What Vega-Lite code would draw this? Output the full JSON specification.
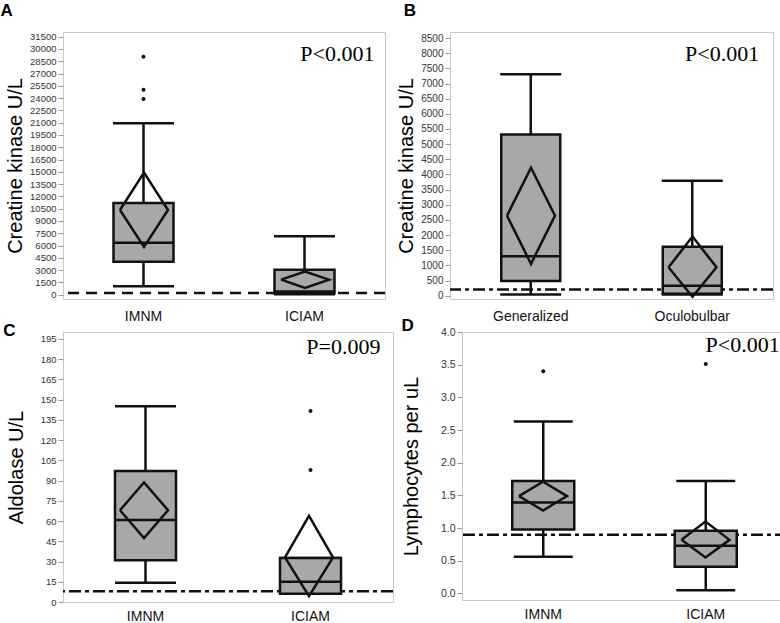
{
  "$schema": "https://vega.github.io/schema/vega-lite/v6.json",
  "background": "white",
  "padding": {"left": 0, "top": 1, "right": 0, "bottom": 0},
  "datasets": {
    "box": [
      {"panel": "A", "group": "IMNM", "lo": 1020, "q1": 4030, "med": 6350, "q3": 11190, "hi": 20920},
      {"panel": "A", "group": "ICIAM", "lo": 50, "q1": 170, "med": 400, "q3": 3050, "hi": 7120},
      {"panel": "B", "group": "Generalized", "lo": 35, "q1": 485, "med": 1300, "q3": 5320, "hi": 7310},
      {"panel": "B", "group": "Oculobulbar", "lo": 40, "q1": 60, "med": 330, "q3": 1610, "hi": 3790},
      {"panel": "C", "group": "IMNM", "lo": 14.3, "q1": 31, "med": 60.8, "q3": 97, "hi": 145},
      {"panel": "C", "group": "ICIAM", "lo": 6.2, "q1": 6.2, "med": 15, "q3": 32.6, "hi": 32.6},
      {"panel": "D", "group": "IMNM", "lo": 0.56, "q1": 0.98, "med": 1.39, "q3": 1.72, "hi": 2.63},
      {"panel": "D", "group": "ICIAM", "lo": 0.05, "q1": 0.41, "med": 0.73, "q3": 0.96, "hi": 1.72}
    ],
    "diamond": [
      {"panel": "A", "group": "IMNM", "k": 1, "vx": "left", "v": 10340},
      {"panel": "A", "group": "IMNM", "k": 2, "vx": "mid", "v": 14900},
      {"panel": "A", "group": "IMNM", "k": 3, "vx": "right", "v": 10340},
      {"panel": "A", "group": "IMNM", "k": 4, "vx": "mid", "v": 5820},
      {"panel": "A", "group": "IMNM", "k": 5, "vx": "left", "v": 10340},
      {"panel": "A", "group": "ICIAM", "k": 1, "vx": "left", "v": 1830},
      {"panel": "A", "group": "ICIAM", "k": 2, "vx": "mid", "v": 2810},
      {"panel": "A", "group": "ICIAM", "k": 3, "vx": "right", "v": 1830},
      {"panel": "A", "group": "ICIAM", "k": 4, "vx": "mid", "v": 810},
      {"panel": "A", "group": "ICIAM", "k": 5, "vx": "left", "v": 1830},
      {"panel": "B", "group": "Generalized", "k": 1, "vx": "left", "v": 2640},
      {"panel": "B", "group": "Generalized", "k": 2, "vx": "mid", "v": 4220},
      {"panel": "B", "group": "Generalized", "k": 3, "vx": "right", "v": 2640},
      {"panel": "B", "group": "Generalized", "k": 4, "vx": "mid", "v": 1050},
      {"panel": "B", "group": "Generalized", "k": 5, "vx": "left", "v": 2640},
      {"panel": "B", "group": "Oculobulbar", "k": 1, "vx": "left", "v": 935},
      {"panel": "B", "group": "Oculobulbar", "k": 2, "vx": "mid", "v": 1950},
      {"panel": "B", "group": "Oculobulbar", "k": 3, "vx": "right", "v": 935},
      {"panel": "B", "group": "Oculobulbar", "k": 4, "vx": "mid", "v": -35},
      {"panel": "B", "group": "Oculobulbar", "k": 5, "vx": "left", "v": 935},
      {"panel": "C", "group": "IMNM", "k": 1, "vx": "left", "v": 68},
      {"panel": "C", "group": "IMNM", "k": 2, "vx": "mid", "v": 88.5},
      {"panel": "C", "group": "IMNM", "k": 3, "vx": "right", "v": 68},
      {"panel": "C", "group": "IMNM", "k": 4, "vx": "mid", "v": 47.3},
      {"panel": "C", "group": "IMNM", "k": 5, "vx": "left", "v": 68},
      {"panel": "C", "group": "ICIAM", "k": 1, "vx": "left", "v": 33},
      {"panel": "C", "group": "ICIAM", "k": 2, "vx": "mid", "v": 63.8},
      {"panel": "C", "group": "ICIAM", "k": 3, "vx": "right", "v": 33},
      {"panel": "C", "group": "ICIAM", "k": 4, "vx": "mid", "v": 4.4},
      {"panel": "C", "group": "ICIAM", "k": 5, "vx": "left", "v": 33},
      {"panel": "D", "group": "IMNM", "k": 1, "vx": "left", "v": 1.49},
      {"panel": "D", "group": "IMNM", "k": 2, "vx": "mid", "v": 1.71},
      {"panel": "D", "group": "IMNM", "k": 3, "vx": "right", "v": 1.49},
      {"panel": "D", "group": "IMNM", "k": 4, "vx": "mid", "v": 1.27},
      {"panel": "D", "group": "IMNM", "k": 5, "vx": "left", "v": 1.49},
      {"panel": "D", "group": "ICIAM", "k": 1, "vx": "left", "v": 0.82},
      {"panel": "D", "group": "ICIAM", "k": 2, "vx": "mid", "v": 1.10},
      {"panel": "D", "group": "ICIAM", "k": 3, "vx": "right", "v": 0.82},
      {"panel": "D", "group": "ICIAM", "k": 4, "vx": "mid", "v": 0.55},
      {"panel": "D", "group": "ICIAM", "k": 5, "vx": "left", "v": 0.82}
    ],
    "outlier": [
      {"panel": "A", "group": "IMNM", "v": 23890},
      {"panel": "A", "group": "IMNM", "v": 25030},
      {"panel": "A", "group": "IMNM", "v": 29060},
      {"panel": "C", "group": "ICIAM", "v": 97.7},
      {"panel": "C", "group": "ICIAM", "v": 141.5},
      {"panel": "D", "group": "IMNM", "v": 3.40},
      {"panel": "D", "group": "ICIAM", "v": 3.51}
    ],
    "ref": [
      {"panel": "A", "v": 200},
      {"panel": "B", "v": 200},
      {"panel": "C", "v": 8},
      {"panel": "D", "v": 0.9}
    ],
    "pval": [
      {"panel": "A", "group": "ICIAM", "v": 28500, "label": "P<0.001"},
      {"panel": "B", "group": "Oculobulbar", "v": 7750, "label": "P<0.001"},
      {"panel": "C", "group": "ICIAM", "v": 184, "label": "P=0.009"},
      {"panel": "D", "group": "ICIAM", "v": 3.69, "label": "P<0.001"}
    ]
  },
  "spacing": -8,
  "vconcat": [
    {
      "spacing": 9,
      "hconcat": [
        {
          "width": 322, "height": 267,
          "title": {"text": "A", "dx": -5, "offset": 12},
          "layer": [
            {"data": {"name": "ref"}, "transform": [{"filter": "datum.panel === 'A'"}],
             "mark": {"type": "rule", "strokeDash": [11, 7], "strokeWidth": 2.5, "color": "#111"},
             "encoding": {"y": {"field": "v", "type": "quantitative", "title": "Creatine kinase U/L", "scale": {"domain": [-530, 32070], "nice": false, "zero": false},
               "axis": {"values": [0, 1500, 3000, 4500, 6000, 7500, 9000, 10500, 12000, 13500, 15000, 16500, 18000, 19500, 21000, 22500, 24000, 25500, 27000, 28500, 30000, 31500], "format": "d", "labelFontSize": 9.5, "titlePadding": 4}}}},
            {"data": {"name": "box"}, "transform": [{"filter": "datum.panel === 'A'"}],
             "mark": {"type": "rule", "strokeWidth": 2.5, "color": "#111"},
             "encoding": {"x": {"field": "group", "type": "nominal", "sort": null, "title": null, "scale": {"domain": ["IMNM", "ICIAM"], "paddingInner": 0, "paddingOuter": 0}},
               "y": {"field": "lo", "type": "quantitative", "title": "Creatine kinase U/L", "scale": {"domain": [-530, 32070], "nice": false, "zero": false},
               "axis": {"values": [0, 1500, 3000, 4500, 6000, 7500, 9000, 10500, 12000, 13500, 15000, 16500, 18000, 19500, 21000, 22500, 24000, 25500, 27000, 28500, 30000, 31500], "format": "d", "labelFontSize": 9.5, "titlePadding": 4}}, "y2": {"field": "q1"}}},
            {"data": {"name": "box"}, "transform": [{"filter": "datum.panel === 'A'"}],
             "mark": {"type": "rule", "strokeWidth": 2.5, "color": "#111"},
             "encoding": {"x": {"field": "group", "type": "nominal", "sort": null, "title": null, "scale": {"domain": ["IMNM", "ICIAM"], "paddingInner": 0, "paddingOuter": 0}},
               "y": {"field": "q3", "type": "quantitative", "title": "Creatine kinase U/L", "scale": {"domain": [-530, 32070], "nice": false, "zero": false},
               "axis": {"values": [0, 1500, 3000, 4500, 6000, 7500, 9000, 10500, 12000, 13500, 15000, 16500, 18000, 19500, 21000, 22500, 24000, 25500, 27000, 28500, 30000, 31500], "format": "d", "labelFontSize": 9.5, "titlePadding": 4}}, "y2": {"field": "hi"}}},
            {"data": {"name": "box"}, "transform": [{"filter": "datum.panel === 'A'"}],
             "mark": {"type": "tick", "size": 61, "thickness": 2.5, "color": "#111", "opacity": 1},
             "encoding": {"x": {"field": "group", "type": "nominal", "sort": null, "title": null, "scale": {"domain": ["IMNM", "ICIAM"], "paddingInner": 0, "paddingOuter": 0}},
               "y": {"field": "lo", "type": "quantitative", "title": "Creatine kinase U/L", "scale": {"domain": [-530, 32070], "nice": false, "zero": false},
               "axis": {"values": [0, 1500, 3000, 4500, 6000, 7500, 9000, 10500, 12000, 13500, 15000, 16500, 18000, 19500, 21000, 22500, 24000, 25500, 27000, 28500, 30000, 31500], "format": "d", "labelFontSize": 9.5, "titlePadding": 4}}}},
            {"data": {"name": "box"}, "transform": [{"filter": "datum.panel === 'A'"}],
             "mark": {"type": "tick", "size": 61, "thickness": 2.5, "color": "#111", "opacity": 1},
             "encoding": {"x": {"field": "group", "type": "nominal", "sort": null, "title": null, "scale": {"domain": ["IMNM", "ICIAM"], "paddingInner": 0, "paddingOuter": 0}},
               "y": {"field": "hi", "type": "quantitative", "title": "Creatine kinase U/L", "scale": {"domain": [-530, 32070], "nice": false, "zero": false},
               "axis": {"values": [0, 1500, 3000, 4500, 6000, 7500, 9000, 10500, 12000, 13500, 15000, 16500, 18000, 19500, 21000, 22500, 24000, 25500, 27000, 28500, 30000, 31500], "format": "d", "labelFontSize": 9.5, "titlePadding": 4}}}},
            {"data": {"name": "box"}, "transform": [{"filter": "datum.panel === 'A'"}],
             "mark": {"type": "bar", "width": 60, "fill": "#a8a8a8", "stroke": "#111", "strokeWidth": 2.5},
             "encoding": {"x": {"field": "group", "type": "nominal", "sort": null, "title": null, "scale": {"domain": ["IMNM", "ICIAM"], "paddingInner": 0, "paddingOuter": 0}},
               "y": {"field": "q1", "type": "quantitative", "title": "Creatine kinase U/L", "scale": {"domain": [-530, 32070], "nice": false, "zero": false},
               "axis": {"values": [0, 1500, 3000, 4500, 6000, 7500, 9000, 10500, 12000, 13500, 15000, 16500, 18000, 19500, 21000, 22500, 24000, 25500, 27000, 28500, 30000, 31500], "format": "d", "labelFontSize": 9.5, "titlePadding": 4}}, "y2": {"field": "q3"}}},
            {"data": {"name": "box"}, "transform": [{"filter": "datum.panel === 'A'"}],
             "mark": {"type": "tick", "size": 60, "thickness": 2.5, "color": "#111", "opacity": 1},
             "encoding": {"x": {"field": "group", "type": "nominal", "sort": null, "title": null, "scale": {"domain": ["IMNM", "ICIAM"], "paddingInner": 0, "paddingOuter": 0}},
               "y": {"field": "med", "type": "quantitative", "title": "Creatine kinase U/L", "scale": {"domain": [-530, 32070], "nice": false, "zero": false},
               "axis": {"values": [0, 1500, 3000, 4500, 6000, 7500, 9000, 10500, 12000, 13500, 15000, 16500, 18000, 19500, 21000, 22500, 24000, 25500, 27000, 28500, 30000, 31500], "format": "d", "labelFontSize": 9.5, "titlePadding": 4}}}},
            {"data": {"name": "diamond"}, "transform": [{"filter": "datum.panel === 'A'"}],
             "mark": {"type": "line", "strokeWidth": 2.5, "color": "#111", "strokeJoin": "miter"},
             "encoding": {"x": {"field": "group", "type": "nominal", "sort": null, "title": null, "scale": {"domain": ["IMNM", "ICIAM"], "paddingInner": 0, "paddingOuter": 0}},
               "xOffset": {"field": "vx", "type": "nominal", "scale": {"type": "point", "domain": ["left", "mid", "right"], "range": [57, 105], "padding": 0}},
               "y": {"field": "v", "type": "quantitative", "title": "Creatine kinase U/L", "scale": {"domain": [-530, 32070], "nice": false, "zero": false},
               "axis": {"values": [0, 1500, 3000, 4500, 6000, 7500, 9000, 10500, 12000, 13500, 15000, 16500, 18000, 19500, 21000, 22500, 24000, 25500, 27000, 28500, 30000, 31500], "format": "d", "labelFontSize": 9.5, "titlePadding": 4}},
               "detail": {"field": "group"}, "order": {"field": "k", "type": "quantitative"}}},
            {"data": {"name": "outlier"}, "transform": [{"filter": "datum.panel === 'A'"}],
             "mark": {"type": "point", "filled": true, "size": 16, "color": "#111", "opacity": 1},
             "encoding": {"x": {"field": "group", "type": "nominal", "sort": null, "title": null, "scale": {"domain": ["IMNM", "ICIAM"], "paddingInner": 0, "paddingOuter": 0}},
               "y": {"field": "v", "type": "quantitative", "title": "Creatine kinase U/L", "scale": {"domain": [-530, 32070], "nice": false, "zero": false},
               "axis": {"values": [0, 1500, 3000, 4500, 6000, 7500, 9000, 10500, 12000, 13500, 15000, 16500, 18000, 19500, 21000, 22500, 24000, 25500, 27000, 28500, 30000, 31500], "format": "d", "labelFontSize": 9.5, "titlePadding": 4}}}},
            {"data": {"name": "pval"}, "transform": [{"filter": "datum.panel === 'A'"}],
             "mark": {"type": "text", "font": "Liberation Serif", "fontSize": 22, "color": "#000", "align": "right", "baseline": "alphabetic", "dx": 70},
             "encoding": {"x": {"field": "group", "type": "nominal", "sort": null, "title": null, "scale": {"domain": ["IMNM", "ICIAM"], "paddingInner": 0, "paddingOuter": 0}},
               "y": {"field": "v", "type": "quantitative", "title": "Creatine kinase U/L", "scale": {"domain": [-530, 32070], "nice": false, "zero": false},
               "axis": {"values": [0, 1500, 3000, 4500, 6000, 7500, 9000, 10500, 12000, 13500, 15000, 16500, 18000, 19500, 21000, 22500, 24000, 25500, 27000, 28500, 30000, 31500], "format": "d", "labelFontSize": 9.5, "titlePadding": 4}},
               "text": {"field": "label"}}}
          ]
        },
        {
          "width": 323, "height": 267,
          "title": {"text": "B", "dx": 7, "offset": 12},
          "layer": [
            {"data": {"name": "ref"}, "transform": [{"filter": "datum.panel === 'B'"}],
             "mark": {"type": "rule", "strokeDash": [12, 4, 4, 4], "strokeWidth": 2.5, "color": "#111"},
             "encoding": {"y": {"field": "v", "type": "quantitative", "title": "Creatine kinase U/L", "scale": {"domain": [-110, 8700], "nice": false, "zero": false},
               "axis": {"values": [0, 500, 1000, 1500, 2000, 2500, 3000, 3500, 4000, 4500, 5000, 5500, 6000, 6500, 7000, 7500, 8000, 8500], "format": "d", "labelFontSize": 10, "titlePadding": 4}}}},
            {"data": {"name": "box"}, "transform": [{"filter": "datum.panel === 'B'"}],
             "mark": {"type": "rule", "strokeWidth": 2.5, "color": "#111"},
             "encoding": {"x": {"field": "group", "type": "nominal", "sort": null, "title": null, "scale": {"domain": ["Generalized", "Oculobulbar"], "paddingInner": 0, "paddingOuter": 0}},
               "y": {"field": "lo", "type": "quantitative", "title": "Creatine kinase U/L", "scale": {"domain": [-110, 8700], "nice": false, "zero": false},
               "axis": {"values": [0, 500, 1000, 1500, 2000, 2500, 3000, 3500, 4000, 4500, 5000, 5500, 6000, 6500, 7000, 7500, 8000, 8500], "format": "d", "labelFontSize": 10, "titlePadding": 4}}, "y2": {"field": "q1"}}},
            {"data": {"name": "box"}, "transform": [{"filter": "datum.panel === 'B'"}],
             "mark": {"type": "rule", "strokeWidth": 2.5, "color": "#111"},
             "encoding": {"x": {"field": "group", "type": "nominal", "sort": null, "title": null, "scale": {"domain": ["Generalized", "Oculobulbar"], "paddingInner": 0, "paddingOuter": 0}},
               "y": {"field": "q3", "type": "quantitative", "title": "Creatine kinase U/L", "scale": {"domain": [-110, 8700], "nice": false, "zero": false},
               "axis": {"values": [0, 500, 1000, 1500, 2000, 2500, 3000, 3500, 4000, 4500, 5000, 5500, 6000, 6500, 7000, 7500, 8000, 8500], "format": "d", "labelFontSize": 10, "titlePadding": 4}}, "y2": {"field": "hi"}}},
            {"data": {"name": "box"}, "transform": [{"filter": "datum.panel === 'B'"}],
             "mark": {"type": "tick", "size": 61, "thickness": 2.5, "color": "#111", "opacity": 1},
             "encoding": {"x": {"field": "group", "type": "nominal", "sort": null, "title": null, "scale": {"domain": ["Generalized", "Oculobulbar"], "paddingInner": 0, "paddingOuter": 0}},
               "y": {"field": "lo", "type": "quantitative", "title": "Creatine kinase U/L", "scale": {"domain": [-110, 8700], "nice": false, "zero": false},
               "axis": {"values": [0, 500, 1000, 1500, 2000, 2500, 3000, 3500, 4000, 4500, 5000, 5500, 6000, 6500, 7000, 7500, 8000, 8500], "format": "d", "labelFontSize": 10, "titlePadding": 4}}}},
            {"data": {"name": "box"}, "transform": [{"filter": "datum.panel === 'B'"}],
             "mark": {"type": "tick", "size": 61, "thickness": 2.5, "color": "#111", "opacity": 1},
             "encoding": {"x": {"field": "group", "type": "nominal", "sort": null, "title": null, "scale": {"domain": ["Generalized", "Oculobulbar"], "paddingInner": 0, "paddingOuter": 0}},
               "y": {"field": "hi", "type": "quantitative", "title": "Creatine kinase U/L", "scale": {"domain": [-110, 8700], "nice": false, "zero": false},
               "axis": {"values": [0, 500, 1000, 1500, 2000, 2500, 3000, 3500, 4000, 4500, 5000, 5500, 6000, 6500, 7000, 7500, 8000, 8500], "format": "d", "labelFontSize": 10, "titlePadding": 4}}}},
            {"data": {"name": "box"}, "transform": [{"filter": "datum.panel === 'B'"}],
             "mark": {"type": "bar", "width": 59, "fill": "#a8a8a8", "stroke": "#111", "strokeWidth": 2.5},
             "encoding": {"x": {"field": "group", "type": "nominal", "sort": null, "title": null, "scale": {"domain": ["Generalized", "Oculobulbar"], "paddingInner": 0, "paddingOuter": 0}},
               "y": {"field": "q1", "type": "quantitative", "title": "Creatine kinase U/L", "scale": {"domain": [-110, 8700], "nice": false, "zero": false},
               "axis": {"values": [0, 500, 1000, 1500, 2000, 2500, 3000, 3500, 4000, 4500, 5000, 5500, 6000, 6500, 7000, 7500, 8000, 8500], "format": "d", "labelFontSize": 10, "titlePadding": 4}}, "y2": {"field": "q3"}}},
            {"data": {"name": "box"}, "transform": [{"filter": "datum.panel === 'B'"}],
             "mark": {"type": "tick", "size": 59, "thickness": 2.5, "color": "#111", "opacity": 1},
             "encoding": {"x": {"field": "group", "type": "nominal", "sort": null, "title": null, "scale": {"domain": ["Generalized", "Oculobulbar"], "paddingInner": 0, "paddingOuter": 0}},
               "y": {"field": "med", "type": "quantitative", "title": "Creatine kinase U/L", "scale": {"domain": [-110, 8700], "nice": false, "zero": false},
               "axis": {"values": [0, 500, 1000, 1500, 2000, 2500, 3000, 3500, 4000, 4500, 5000, 5500, 6000, 6500, 7000, 7500, 8000, 8500], "format": "d", "labelFontSize": 10, "titlePadding": 4}}}},
            {"data": {"name": "diamond"}, "transform": [{"filter": "datum.panel === 'B'"}],
             "mark": {"type": "line", "strokeWidth": 2.5, "color": "#111", "strokeJoin": "miter"},
             "encoding": {"x": {"field": "group", "type": "nominal", "sort": null, "title": null, "scale": {"domain": ["Generalized", "Oculobulbar"], "paddingInner": 0, "paddingOuter": 0}},
               "xOffset": {"field": "vx", "type": "nominal", "scale": {"type": "point", "domain": ["left", "mid", "right"], "range": [56.75, 104.75], "padding": 0}},
               "y": {"field": "v", "type": "quantitative", "title": "Creatine kinase U/L", "scale": {"domain": [-110, 8700], "nice": false, "zero": false},
               "axis": {"values": [0, 500, 1000, 1500, 2000, 2500, 3000, 3500, 4000, 4500, 5000, 5500, 6000, 6500, 7000, 7500, 8000, 8500], "format": "d", "labelFontSize": 10, "titlePadding": 4}},
               "detail": {"field": "group"}, "order": {"field": "k", "type": "quantitative"}}},
            {"data": {"name": "pval"}, "transform": [{"filter": "datum.panel === 'B'"}],
             "mark": {"type": "text", "font": "Liberation Serif", "fontSize": 22, "color": "#000", "align": "right", "baseline": "alphabetic", "dx": 67},
             "encoding": {"x": {"field": "group", "type": "nominal", "sort": null, "title": null, "scale": {"domain": ["Generalized", "Oculobulbar"], "paddingInner": 0, "paddingOuter": 0}},
               "y": {"field": "v", "type": "quantitative", "title": "Creatine kinase U/L", "scale": {"domain": [-110, 8700], "nice": false, "zero": false},
               "axis": {"values": [0, 500, 1000, 1500, 2000, 2500, 3000, 3500, 4000, 4500, 5000, 5500, 6000, 6500, 7000, 7500, 8000, 8500], "format": "d", "labelFontSize": 10, "titlePadding": 4}},
               "text": {"field": "label"}}}
          ]
        }
      ]
    },
    {
      "spacing": 5,
      "hconcat": [
        {
          "width": 330, "height": 270,
          "title": {"text": "C", "dx": -3, "offset": -8},
          "layer": [
            {"data": {"name": "ref"}, "transform": [{"filter": "datum.panel === 'C'"}],
             "mark": {"type": "rule", "strokeDash": [12, 4, 4, 4], "strokeWidth": 2.5, "color": "#111"},
             "encoding": {"y": {"field": "v", "type": "quantitative", "title": "Aldolase U/L", "scale": {"domain": [0, 200], "nice": false, "zero": false},
               "axis": {"values": [0, 15, 30, 45, 60, 75, 90, 105, 120, 135, 150, 165, 180, 195], "format": "d", "labelFontSize": 9.5, "titlePadding": 14}}}},
            {"data": {"name": "box"}, "transform": [{"filter": "datum.panel === 'C'"}],
             "mark": {"type": "rule", "strokeWidth": 2.5, "color": "#111"},
             "encoding": {"x": {"field": "group", "type": "nominal", "sort": null, "title": null, "scale": {"domain": ["IMNM", "ICIAM"], "paddingInner": 0, "paddingOuter": 0}, "axis": {"labelPadding": 7}},
               "y": {"field": "lo", "type": "quantitative", "title": "Aldolase U/L", "scale": {"domain": [0, 200], "nice": false, "zero": false},
               "axis": {"values": [0, 15, 30, 45, 60, 75, 90, 105, 120, 135, 150, 165, 180, 195], "format": "d", "labelFontSize": 9.5, "titlePadding": 14}}, "y2": {"field": "q1"}}},
            {"data": {"name": "box"}, "transform": [{"filter": "datum.panel === 'C'"}],
             "mark": {"type": "rule", "strokeWidth": 2.5, "color": "#111"},
             "encoding": {"x": {"field": "group", "type": "nominal", "sort": null, "title": null, "scale": {"domain": ["IMNM", "ICIAM"], "paddingInner": 0, "paddingOuter": 0}, "axis": {"labelPadding": 7}},
               "y": {"field": "q3", "type": "quantitative", "title": "Aldolase U/L", "scale": {"domain": [0, 200], "nice": false, "zero": false},
               "axis": {"values": [0, 15, 30, 45, 60, 75, 90, 105, 120, 135, 150, 165, 180, 195], "format": "d", "labelFontSize": 9.5, "titlePadding": 14}}, "y2": {"field": "hi"}}},
            {"data": {"name": "box"}, "transform": [{"filter": "datum.panel === 'C'"}],
             "mark": {"type": "tick", "size": 61, "thickness": 2.5, "color": "#111", "opacity": 1},
             "encoding": {"x": {"field": "group", "type": "nominal", "sort": null, "title": null, "scale": {"domain": ["IMNM", "ICIAM"], "paddingInner": 0, "paddingOuter": 0}, "axis": {"labelPadding": 7}},
               "y": {"field": "lo", "type": "quantitative", "title": "Aldolase U/L", "scale": {"domain": [0, 200], "nice": false, "zero": false},
               "axis": {"values": [0, 15, 30, 45, 60, 75, 90, 105, 120, 135, 150, 165, 180, 195], "format": "d", "labelFontSize": 9.5, "titlePadding": 14}}}},
            {"data": {"name": "box"}, "transform": [{"filter": "datum.panel === 'C'"}],
             "mark": {"type": "tick", "size": 61, "thickness": 2.5, "color": "#111", "opacity": 1},
             "encoding": {"x": {"field": "group", "type": "nominal", "sort": null, "title": null, "scale": {"domain": ["IMNM", "ICIAM"], "paddingInner": 0, "paddingOuter": 0}, "axis": {"labelPadding": 7}},
               "y": {"field": "hi", "type": "quantitative", "title": "Aldolase U/L", "scale": {"domain": [0, 200], "nice": false, "zero": false},
               "axis": {"values": [0, 15, 30, 45, 60, 75, 90, 105, 120, 135, 150, 165, 180, 195], "format": "d", "labelFontSize": 9.5, "titlePadding": 14}}}},
            {"data": {"name": "box"}, "transform": [{"filter": "datum.panel === 'C'"}],
             "mark": {"type": "bar", "width": 61, "fill": "#a8a8a8", "stroke": "#111", "strokeWidth": 2.5},
             "encoding": {"x": {"field": "group", "type": "nominal", "sort": null, "title": null, "scale": {"domain": ["IMNM", "ICIAM"], "paddingInner": 0, "paddingOuter": 0}, "axis": {"labelPadding": 7}},
               "y": {"field": "q1", "type": "quantitative", "title": "Aldolase U/L", "scale": {"domain": [0, 200], "nice": false, "zero": false},
               "axis": {"values": [0, 15, 30, 45, 60, 75, 90, 105, 120, 135, 150, 165, 180, 195], "format": "d", "labelFontSize": 9.5, "titlePadding": 14}}, "y2": {"field": "q3"}}},
            {"data": {"name": "box"}, "transform": [{"filter": "datum.panel === 'C'"}],
             "mark": {"type": "tick", "size": 61, "thickness": 2.5, "color": "#111", "opacity": 1},
             "encoding": {"x": {"field": "group", "type": "nominal", "sort": null, "title": null, "scale": {"domain": ["IMNM", "ICIAM"], "paddingInner": 0, "paddingOuter": 0}, "axis": {"labelPadding": 7}},
               "y": {"field": "med", "type": "quantitative", "title": "Aldolase U/L", "scale": {"domain": [0, 200], "nice": false, "zero": false},
               "axis": {"values": [0, 15, 30, 45, 60, 75, 90, 105, 120, 135, 150, 165, 180, 195], "format": "d", "labelFontSize": 9.5, "titlePadding": 14}}}},
            {"data": {"name": "diamond"}, "transform": [{"filter": "datum.panel === 'C'"}],
             "mark": {"type": "line", "strokeWidth": 2.5, "color": "#111", "strokeJoin": "miter"},
             "encoding": {"x": {"field": "group", "type": "nominal", "sort": null, "title": null, "scale": {"domain": ["IMNM", "ICIAM"], "paddingInner": 0, "paddingOuter": 0}, "axis": {"labelPadding": 7}},
               "xOffset": {"field": "vx", "type": "nominal", "scale": {"type": "point", "domain": ["left", "mid", "right"], "range": [58.5, 106.5], "padding": 0}},
               "y": {"field": "v", "type": "quantitative", "title": "Aldolase U/L", "scale": {"domain": [0, 200], "nice": false, "zero": false},
               "axis": {"values": [0, 15, 30, 45, 60, 75, 90, 105, 120, 135, 150, 165, 180, 195], "format": "d", "labelFontSize": 9.5, "titlePadding": 14}},
               "detail": {"field": "group"}, "order": {"field": "k", "type": "quantitative"}}},
            {"data": {"name": "outlier"}, "transform": [{"filter": "datum.panel === 'C'"}],
             "mark": {"type": "point", "filled": true, "size": 16, "color": "#111", "opacity": 1},
             "encoding": {"x": {"field": "group", "type": "nominal", "sort": null, "title": null, "scale": {"domain": ["IMNM", "ICIAM"], "paddingInner": 0, "paddingOuter": 0}, "axis": {"labelPadding": 7}},
               "y": {"field": "v", "type": "quantitative", "title": "Aldolase U/L", "scale": {"domain": [0, 200], "nice": false, "zero": false},
               "axis": {"values": [0, 15, 30, 45, 60, 75, 90, 105, 120, 135, 150, 165, 180, 195], "format": "d", "labelFontSize": 9.5, "titlePadding": 14}}}},
            {"data": {"name": "pval"}, "transform": [{"filter": "datum.panel === 'C'"}],
             "mark": {"type": "text", "font": "Liberation Serif", "fontSize": 22, "color": "#000", "align": "right", "baseline": "alphabetic", "dx": 70},
             "encoding": {"x": {"field": "group", "type": "nominal", "sort": null, "title": null, "scale": {"domain": ["IMNM", "ICIAM"], "paddingInner": 0, "paddingOuter": 0}, "axis": {"labelPadding": 7}},
               "y": {"field": "v", "type": "quantitative", "title": "Aldolase U/L", "scale": {"domain": [0, 200], "nice": false, "zero": false},
               "axis": {"values": [0, 15, 30, 45, 60, 75, 90, 105, 120, 135, 150, 165, 180, 195], "format": "d", "labelFontSize": 9.5, "titlePadding": 14}},
               "text": {"field": "label"}}}
          ]
        },
        {
          "width": 325, "height": 268,
          "title": {"text": "D", "dx": 0, "offset": -8},
          "layer": [
            {"data": {"name": "ref"}, "transform": [{"filter": "datum.panel === 'D'"}],
             "mark": {"type": "rule", "strokeDash": [12, 4, 4, 4], "strokeWidth": 2.5, "color": "#111"},
             "encoding": {"y": {"field": "v", "type": "quantitative", "title": "Lymphocytes per uL", "scale": {"domain": [-0.1, 4.0], "nice": false, "zero": false},
               "axis": {"values": [0, 0.5, 1, 1.5, 2, 2.5, 3, 3.5, 4], "format": ".1f", "labelFontSize": 10.5, "titlePadding": 19}}}},
            {"data": {"name": "box"}, "transform": [{"filter": "datum.panel === 'D'"}],
             "mark": {"type": "rule", "strokeWidth": 2.5, "color": "#111"},
             "encoding": {"x": {"field": "group", "type": "nominal", "sort": null, "title": null, "scale": {"domain": ["IMNM", "ICIAM"], "paddingInner": 0, "paddingOuter": 0}, "axis": {"labelPadding": 7}},
               "y": {"field": "lo", "type": "quantitative", "title": "Lymphocytes per uL", "scale": {"domain": [-0.1, 4.0], "nice": false, "zero": false},
               "axis": {"values": [0, 0.5, 1, 1.5, 2, 2.5, 3, 3.5, 4], "format": ".1f", "labelFontSize": 10.5, "titlePadding": 19}}, "y2": {"field": "q1"}}},
            {"data": {"name": "box"}, "transform": [{"filter": "datum.panel === 'D'"}],
             "mark": {"type": "rule", "strokeWidth": 2.5, "color": "#111"},
             "encoding": {"x": {"field": "group", "type": "nominal", "sort": null, "title": null, "scale": {"domain": ["IMNM", "ICIAM"], "paddingInner": 0, "paddingOuter": 0}, "axis": {"labelPadding": 7}},
               "y": {"field": "q3", "type": "quantitative", "title": "Lymphocytes per uL", "scale": {"domain": [-0.1, 4.0], "nice": false, "zero": false},
               "axis": {"values": [0, 0.5, 1, 1.5, 2, 2.5, 3, 3.5, 4], "format": ".1f", "labelFontSize": 10.5, "titlePadding": 19}}, "y2": {"field": "hi"}}},
            {"data": {"name": "box"}, "transform": [{"filter": "datum.panel === 'D'"}],
             "mark": {"type": "tick", "size": 59, "thickness": 2.5, "color": "#111", "opacity": 1},
             "encoding": {"x": {"field": "group", "type": "nominal", "sort": null, "title": null, "scale": {"domain": ["IMNM", "ICIAM"], "paddingInner": 0, "paddingOuter": 0}, "axis": {"labelPadding": 7}},
               "y": {"field": "lo", "type": "quantitative", "title": "Lymphocytes per uL", "scale": {"domain": [-0.1, 4.0], "nice": false, "zero": false},
               "axis": {"values": [0, 0.5, 1, 1.5, 2, 2.5, 3, 3.5, 4], "format": ".1f", "labelFontSize": 10.5, "titlePadding": 19}}}},
            {"data": {"name": "box"}, "transform": [{"filter": "datum.panel === 'D'"}],
             "mark": {"type": "tick", "size": 59, "thickness": 2.5, "color": "#111", "opacity": 1},
             "encoding": {"x": {"field": "group", "type": "nominal", "sort": null, "title": null, "scale": {"domain": ["IMNM", "ICIAM"], "paddingInner": 0, "paddingOuter": 0}, "axis": {"labelPadding": 7}},
               "y": {"field": "hi", "type": "quantitative", "title": "Lymphocytes per uL", "scale": {"domain": [-0.1, 4.0], "nice": false, "zero": false},
               "axis": {"values": [0, 0.5, 1, 1.5, 2, 2.5, 3, 3.5, 4], "format": ".1f", "labelFontSize": 10.5, "titlePadding": 19}}}},
            {"data": {"name": "box"}, "transform": [{"filter": "datum.panel === 'D'"}],
             "mark": {"type": "bar", "width": 62, "fill": "#a8a8a8", "stroke": "#111", "strokeWidth": 2.5},
             "encoding": {"x": {"field": "group", "type": "nominal", "sort": null, "title": null, "scale": {"domain": ["IMNM", "ICIAM"], "paddingInner": 0, "paddingOuter": 0}, "axis": {"labelPadding": 7}},
               "y": {"field": "q1", "type": "quantitative", "title": "Lymphocytes per uL", "scale": {"domain": [-0.1, 4.0], "nice": false, "zero": false},
               "axis": {"values": [0, 0.5, 1, 1.5, 2, 2.5, 3, 3.5, 4], "format": ".1f", "labelFontSize": 10.5, "titlePadding": 19}}, "y2": {"field": "q3"}}},
            {"data": {"name": "box"}, "transform": [{"filter": "datum.panel === 'D'"}],
             "mark": {"type": "tick", "size": 62, "thickness": 2.5, "color": "#111", "opacity": 1},
             "encoding": {"x": {"field": "group", "type": "nominal", "sort": null, "title": null, "scale": {"domain": ["IMNM", "ICIAM"], "paddingInner": 0, "paddingOuter": 0}, "axis": {"labelPadding": 7}},
               "y": {"field": "med", "type": "quantitative", "title": "Lymphocytes per uL", "scale": {"domain": [-0.1, 4.0], "nice": false, "zero": false},
               "axis": {"values": [0, 0.5, 1, 1.5, 2, 2.5, 3, 3.5, 4], "format": ".1f", "labelFontSize": 10.5, "titlePadding": 19}}}},
            {"data": {"name": "diamond"}, "transform": [{"filter": "datum.panel === 'D'"}],
             "mark": {"type": "line", "strokeWidth": 2.5, "color": "#111", "strokeJoin": "miter"},
             "encoding": {"x": {"field": "group", "type": "nominal", "sort": null, "title": null, "scale": {"domain": ["IMNM", "ICIAM"], "paddingInner": 0, "paddingOuter": 0}, "axis": {"labelPadding": 7}},
               "xOffset": {"field": "vx", "type": "nominal", "scale": {"type": "point", "domain": ["left", "mid", "right"], "range": [57.25, 105.25], "padding": 0}},
               "y": {"field": "v", "type": "quantitative", "title": "Lymphocytes per uL", "scale": {"domain": [-0.1, 4.0], "nice": false, "zero": false},
               "axis": {"values": [0, 0.5, 1, 1.5, 2, 2.5, 3, 3.5, 4], "format": ".1f", "labelFontSize": 10.5, "titlePadding": 19}},
               "detail": {"field": "group"}, "order": {"field": "k", "type": "quantitative"}}},
            {"data": {"name": "outlier"}, "transform": [{"filter": "datum.panel === 'D'"}],
             "mark": {"type": "point", "filled": true, "size": 16, "color": "#111", "opacity": 1},
             "encoding": {"x": {"field": "group", "type": "nominal", "sort": null, "title": null, "scale": {"domain": ["IMNM", "ICIAM"], "paddingInner": 0, "paddingOuter": 0}, "axis": {"labelPadding": 7}},
               "y": {"field": "v", "type": "quantitative", "title": "Lymphocytes per uL", "scale": {"domain": [-0.1, 4.0], "nice": false, "zero": false},
               "axis": {"values": [0, 0.5, 1, 1.5, 2, 2.5, 3, 3.5, 4], "format": ".1f", "labelFontSize": 10.5, "titlePadding": 19}}}},
            {"data": {"name": "pval"}, "transform": [{"filter": "datum.panel === 'D'"}],
             "mark": {"type": "text", "font": "Liberation Serif", "fontSize": 22, "color": "#000", "align": "right", "baseline": "alphabetic", "dx": 74},
             "encoding": {"x": {"field": "group", "type": "nominal", "sort": null, "title": null, "scale": {"domain": ["IMNM", "ICIAM"], "paddingInner": 0, "paddingOuter": 0}, "axis": {"labelPadding": 7}},
               "y": {"field": "v", "type": "quantitative", "title": "Lymphocytes per uL", "scale": {"domain": [-0.1, 4.0], "nice": false, "zero": false},
               "axis": {"values": [0, 0.5, 1, 1.5, 2, 2.5, 3, 3.5, 4], "format": ".1f", "labelFontSize": 10.5, "titlePadding": 19}},
               "text": {"field": "label"}}}
          ]
        }
      ]
    }
  ],
  "config": {
    "view": {"stroke": "#c8c8c8", "strokeWidth": 1},
    "font": "Liberation Sans",
    "axis": {"labelFont": "Liberation Sans", "titleFont": "Liberation Sans"},
    "axisY": {"grid": false, "domain": false, "tickColor": "#999", "tickSize": 5, "labelColor": "#333", "titleFontSize": 20, "titleFontWeight": "normal", "titleColor": "#000", "labelPadding": 2},
    "axisX": {"grid": false, "domain": false, "ticks": false, "labelFontSize": 14, "labelColor": "#111", "labelPadding": 10, "labelAngle": 0},
    "title": {"font": "Liberation Sans", "fontSize": 17, "fontWeight": "bold", "anchor": "start", "frame": "bounds", "color": "#000"}
  }
}
